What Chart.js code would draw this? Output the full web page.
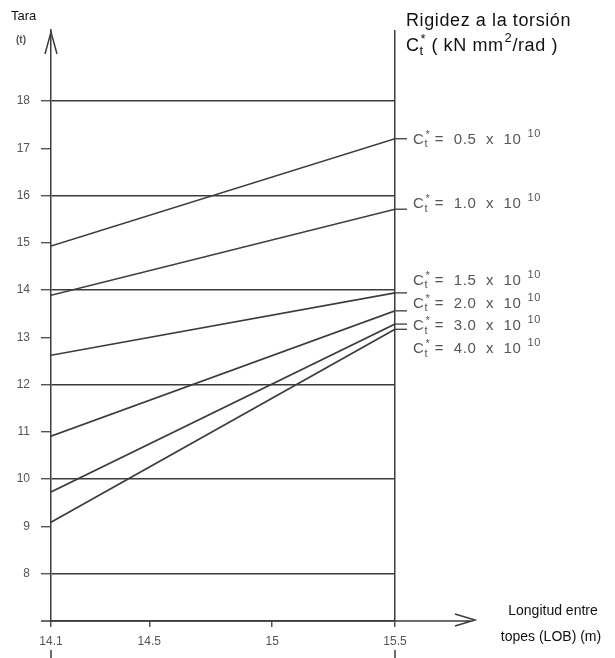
<!DOCTYPE html>
<html>
<head>
<meta charset="utf-8">
<script src="https://cdn.jsdelivr.net/npm/chart.js@4"></script>
<style>
  html, body { margin: 0; padding: 0; background: #fff; }
  #wrap { width: 615px; height: 658px; }
</style>
</head>
<body>
<div id="wrap"><canvas id="taraChart" width="615" height="658"></canvas></div>
<script>
// Data
const lobValues = [14.1, 15.5];
const ctValues = ['0.5', '1.0', '1.5', '2.0', '3.0', '4.0'];
const taraAtStart = [14.93, 13.89, 12.62, 10.91, 9.73, 9.09];
const taraAtEnd = [17.2, 15.71, 13.94, 13.56, 13.28, 13.17];
const xTickValues = [14.1, 14.5, 15, 15.5];
const yTickValues = [8, 9, 10, 11, 12, 13, 14, 15, 16, 17, 18];

Chart.defaults.font.family = '"Liberation Sans", Arial, sans-serif';
Chart.defaults.color = '#444';

const ink = '#3c3c3c';
const fam = '"Liberation Sans", Arial, sans-serif';

// where each curve label sits relative to the end of its line
const labelShift = [1, -5, -12, -7, 2, 20];

function drawCt(ctx, x, y, size, rest, sup, spacing) {
    ctx.letterSpacing = (spacing || 0) + 'px';
    ctx.font = size + 'px ' + fam;
    ctx.fillText('C', x, y);
    let w = ctx.measureText('C').width;
    const small = Math.round(size * 0.7);
    ctx.font = small + 'px ' + fam;
    ctx.fillText('t', x + w, y + size * 0.3);
    ctx.fillText('*', x + w + 1, y - size * 0.35);
    w += ctx.measureText('t').width + 2;
    ctx.font = size + 'px ' + fam;
    ctx.fillText(rest, x + w, y);
    w += ctx.measureText(rest).width;
    if (sup) {
        ctx.font = small + 'px ' + fam;
        ctx.fillText(sup.text, x + w + (sup.gap || 1), y - size * 0.4);
        w += (sup.gap || 1) + ctx.measureText(sup.text).width;
        if (sup.after) {
            ctx.font = size + 'px ' + fam;
            ctx.fillText(sup.after, x + w, y);
        }
    }
    ctx.letterSpacing = '0px';
}

const decor = {
    id: 'decor',
    afterDraw(chart) {
        const { ctx, chartArea: a, scales: { x, y } } = chart;
        ctx.save();
        ctx.strokeStyle = ink;
        ctx.lineWidth = 1.5;
        ctx.beginPath();
        // x axis running on past 15.5 with an open arrow
        ctx.moveTo(a.left - 10, a.bottom);
        ctx.lineTo(a.right + 78, a.bottom);
        ctx.moveTo(a.right + 60, a.bottom - 7);
        ctx.lineTo(a.right + 80, a.bottom - 1);
        ctx.lineTo(a.right + 60, a.bottom + 5);
        // y axis arrow
        ctx.moveTo(a.left - 6, a.top + 24);
        ctx.lineTo(a.left, a.top + 2);
        ctx.lineTo(a.left + 6, a.top + 24);
        // short dashes under the first and last x labels
        ctx.moveTo(x.getPixelForValue(14.1), 650);
        ctx.lineTo(x.getPixelForValue(14.1), 658);
        ctx.moveTo(x.getPixelForValue(15.5), 650);
        ctx.lineTo(x.getPixelForValue(15.5), 658);
        ctx.stroke();

        // curve labels with leader ticks
        ctx.fillStyle = '#555';
        ctx.textBaseline = 'middle';
        ctx.textAlign = 'left';
        ctx.lineWidth = 1.3;
        ctValues.forEach((v, i) => {
            const pt = chart.getDatasetMeta(i).data[1];
            ctx.beginPath();
            ctx.moveTo(a.right, pt.y);
            ctx.lineTo(a.right + 12, pt.y);
            ctx.stroke();
            drawCt(ctx, a.right + 18, pt.y + labelShift[i], 15, ' =  ' + v + '  x  10', { text: '10', gap: 6 }, 0.6);
        });

        // axis titles
        ctx.fillStyle = '#111';
        ctx.textAlign = 'left';
        ctx.font = '13px ' + fam;
        ctx.fillText('Tara', 11, 16);
        ctx.font = 'bold 10px ' + fam;
        ctx.fillStyle = '#555';
        ctx.fillText('(t)', 16, 40);

        ctx.fillStyle = '#111';
        ctx.letterSpacing = '0.6px';
        ctx.font = '18px ' + fam;
        ctx.fillText('Rigidez a la torsión', 406, 21);
        ctx.letterSpacing = '0px';
        drawCt(ctx, 406, 46, 18, ' ( kN mm', { text: '2', gap: 0, after: '/rad )' }, 0.6);

        ctx.textAlign = 'center';
        ctx.font = '14px ' + fam;
        ctx.fillText('Longitud entre', 553, 611);
        ctx.fillText('topes (LOB) (m)', 551, 637);
        ctx.restore();
    }
};

const ctx = document.getElementById('taraChart').getContext('2d');
new Chart(ctx, {
    type: 'scatter',
    data: {
        datasets: ctValues.map((v, i) => ({
            label: 'Ct* = ' + v + ' x 10^10',
            data: [
                { x: lobValues[0], y: taraAtStart[i] },
                { x: lobValues[1], y: taraAtEnd[i] }
            ],
            showLine: true,
            borderColor: ink,
            borderWidth: 1.6,
            pointRadius: 0
        }))
    },
    plugins: [decor],
    options: {
        responsive: false,
        animation: false,
        layout: { padding: { top: 30, right: 220, left: 6, bottom: 0 } },
        plugins: {
            legend: { display: false },
            tooltip: { enabled: false }
        },
        scales: {
            x: {
                type: 'linear',
                min: 14.1,
                max: 15.5,
                afterBuildTicks: s => { s.ticks = xTickValues.map(v => ({ value: v })); },
                afterFit: s => { s.height = 37; },
                ticks: {
                    padding: 7,
                    color: '#555',
                    font: { size: 12 },
                    callback: v => String(v)
                },
                grid: {
                    color: c => (c.tick && c.tick.value === 15.5) ? ink : 'rgba(0,0,0,0)',
                    lineWidth: 1.5,
                    tickColor: '#555',
                    tickLength: 6
                },
                border: { color: ink, width: 1.5 }
            },
            y: {
                min: 7,
                max: 19.5,
                afterBuildTicks: s => { s.ticks = yTickValues.map(v => ({ value: v })); },
                afterFit: s => { s.width = 45; },
                ticks: {
                    padding: 11,
                    color: '#555',
                    font: { size: 12 }
                },
                grid: {
                    color: c => (c.tick && c.tick.value % 2 === 0) ? ink : 'rgba(0,0,0,0)',
                    lineWidth: 1.4,
                    tickColor: '#555',
                    tickLength: 10
                },
                border: { color: ink, width: 1.5 }
            }
        }
    }
});
</script>
</body>
</html>
